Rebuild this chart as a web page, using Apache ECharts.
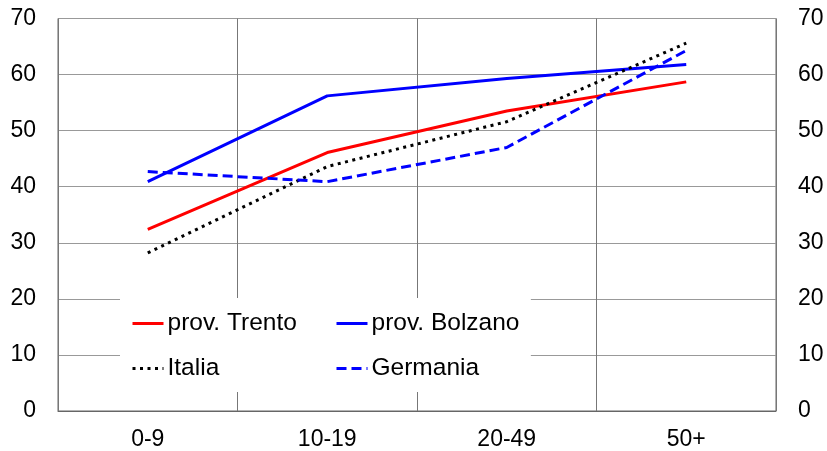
<!DOCTYPE html>
<html>
<head>
<meta charset="utf-8">
<script src="https://cdn.jsdelivr.net/npm/echarts@6/dist/echarts.min.js"></script>
<style>
  html, body { margin: 0; padding: 0; background: #fff; }
  #chart { width: 827px; height: 451px; }
</style>
</head>
<body>
<div id="chart"></div>
<script>
  // categorie (classi di addetti)
  var categories = ['0-9', '10-19', '20-49', '50+'];
  var trento = [32.4, 46.1, 53.5, 58.7];
  var bolzano = [40.9, 56.2, 59.3, 61.8];
  var italia = [28.2, 43.6, 51.6, 65.6];
  var germania = [42.7, 40.9, 47.0, 64.3];

  var font = 'Liberation Sans, Arial, sans-serif';

  var chart = echarts.init(document.getElementById('chart'));
  chart.setOption({
    animation: false,
    grid: {
      left: 58,
      right: 51,
      top: 18.5,
      bottom: 40,
      show: true,
      borderColor: '#666',
      borderWidth: 1
    },
    legend: [
      {
        left: 120,
        top: 298,
        orient: 'vertical',
        padding: [13, 234, 11, 11],
        backgroundColor: '#fff',
        itemWidth: 31,
        itemHeight: 14,
        itemGap: 20,
        itemStyle: { opacity: 0 },
        lineStyle: { width: 3 },
        textStyle: { fontFamily: font, fontSize: 24.5, color: '#000', padding: [0, 0, 0, -1] },
        data: ['prov. Trento', 'Italia']
      },
      {
        left: 335,
        top: 298,
        orient: 'vertical',
        padding: [13, 0, 11, 0],
        itemWidth: 31,
        itemHeight: 14,
        itemGap: 20,
        itemStyle: { opacity: 0 },
        lineStyle: { width: 3 },
        textStyle: { fontFamily: font, fontSize: 24.5, color: '#000', padding: [0, 0, 0, -1] },
        data: ['prov. Bolzano', 'Germania']
      }
    ],
    xAxis: {
      type: 'category',
      data: categories,
      boundaryGap: true,
      axisTick: { show: false },
      axisLine: { lineStyle: { color: '#666' } },
      axisLabel: { fontFamily: font, fontSize: 23, color: '#000', margin: 17 },
      splitLine: { show: true, interval: 0, lineStyle: { color: '#777', width: 1 } }
    },
    yAxis: [
      {
        type: 'value',
        min: 0,
        max: 70,
        interval: 10,
        axisLine: { show: false },
        axisTick: { show: false },
        axisLabel: { fontFamily: font, fontSize: 23, color: '#000', margin: 22 },
        splitLine: { lineStyle: { color: '#999', width: 1 } }
      },
      {
        type: 'value',
        position: 'right',
        min: 0,
        max: 70,
        interval: 10,
        axisLine: { show: false },
        axisTick: { show: false },
        axisLabel: { fontFamily: font, fontSize: 23, color: '#000', margin: 22 },
        splitLine: { show: false }
      }
    ],
    series: [
      {
        name: 'prov. Trento',
        type: 'line',
        data: trento,
        symbol: 'none',
        itemStyle: { color: '#ff0000' },
        lineStyle: { color: '#ff0000', width: 3 }
      },
      {
        name: 'prov. Bolzano',
        type: 'line',
        data: bolzano,
        symbol: 'none',
        itemStyle: { color: '#0000ff' },
        lineStyle: { color: '#0000ff', width: 3 }
      },
      {
        name: 'Italia',
        type: 'line',
        data: italia,
        symbol: 'none',
        itemStyle: { color: '#000' },
        lineStyle: { color: '#000', width: 3, type: [3, 4.5] }
      },
      {
        name: 'Germania',
        type: 'line',
        data: germania,
        symbol: 'none',
        itemStyle: { color: '#0000ff' },
        lineStyle: { color: '#0000ff', width: 3, type: [10, 5] }
      }
    ]
  });
</script>
</body>
</html>
